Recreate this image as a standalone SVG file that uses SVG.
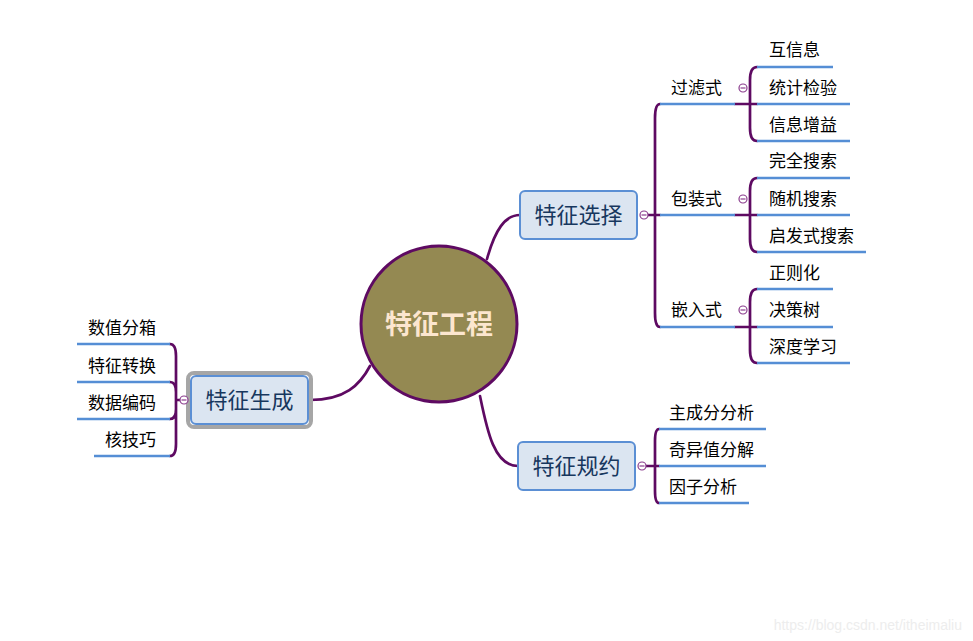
<svg xmlns="http://www.w3.org/2000/svg" width="973" height="641" viewBox="0 0 973 641">
<style>
.conn{fill:none;stroke:#5E0A62;stroke-width:2.7;stroke-linecap:round}
.ul{fill:none;stroke:#558ED5;stroke-width:2.5}
.box{fill:#DBE5F1;stroke:#5B8FD4;stroke-width:2}
.bt{font-family:"Noto Sans CJK SC","Liberation Sans",sans-serif;font-size:22px;fill:#17375E}
.t{font-family:"Noto Sans CJK SC","Liberation Sans",sans-serif;font-size:17px;fill:#000}
.col{fill:#fff;stroke:#8B3D8E;stroke-width:1.2}
.mn{stroke:#8B3D8E;stroke-width:1.2}
</style>
<rect width="973" height="641" fill="#fff"/>
<g id="connectors">
<path class="conn" d="M487,259 C495,230 505,215 520,215"/>
<path class="conn" d="M310,400 C345,400 360,385 370,366"/>
<path class="conn" d="M480,396 C487,430 494,466 518,466"/>
<path class="conn" d="M660,104 Q655,104 655,118 L655,313 Q655,327 660,327"/>
<path class="conn" d="M648,215 L660,215"/>
<path class="conn" d="M735,104 L757,104 M757,67 Q750,67 750,80 L750,128 Q750,141 757,141"/>
<path class="conn" d="M735,215 L757,215 M757,178 Q750,178 750,191 L750,239 Q750,252 757,252"/>
<path class="conn" d="M735,327 L757,327 M757,289 Q750,289 750,302 L750,350 Q750,363 757,363"/>
<path class="conn" d="M659,429 Q655,429 655,441 L655,491 Q655,503 659,503 M646,466 L659,466"/>
<path class="conn" d="M170,344 Q176,344 176,356 L176,444 Q176,456 170,456 M170,382 Q176,382 176,392 M170,419 Q176,419 176,409 M176,400 L180,400"/>
</g>
<g id="center">
<circle cx="439" cy="324" r="78" fill="#948952" stroke="#5E0A62" stroke-width="3"/>
<text x="439" y="334" text-anchor="middle" font-family="Noto Sans CJK SC,Liberation Sans,sans-serif" font-size="27" font-weight="bold" fill="#FCE6CF">特征工程</text>
</g>
<g id="n-select">
<rect class="box" x="520" y="191" width="117" height="48" rx="5"/>
<text class="bt" x="578.5" y="223" text-anchor="middle">特征选择</text>
<circle class="col" cx="644" cy="215" r="4"/><path class="mn" d="M641.5,215 L646.5,215"/>
</g>
<g id="n-filter">
<path class="ul" d="M660,104 L735,104"/>
<text class="t" x="671" y="94">过滤式</text>
<circle class="col" cx="743" cy="88" r="4"/><path class="mn" d="M740.5,88 L745.5,88"/>
</g>
<g id="n-wrap">
<path class="ul" d="M660,215 L735,215"/>
<text class="t" x="671" y="205">包装式</text>
<circle class="col" cx="743" cy="199" r="4"/><path class="mn" d="M740.5,199 L745.5,199"/>
</g>
<g id="n-embed">
<path class="ul" d="M660,327 L735,327"/>
<text class="t" x="671" y="316">嵌入式</text>
<circle class="col" cx="743" cy="310" r="4"/><path class="mn" d="M740.5,310 L745.5,310"/>
</g>
<g id="leaves-right">
<path class="ul" d="M757,67 L833,67 M757,104 L850,104 M757,141 L850,141"/>
<text class="t" x="769" y="56">互信息</text>
<text class="t" x="769" y="94">统计检验</text>
<text class="t" x="769" y="131">信息增益</text>
<path class="ul" d="M757,178 L850,178 M757,215 L850,215 M757,252 L866,252"/>
<text class="t" x="769" y="167">完全搜索</text>
<text class="t" x="769" y="205">随机搜索</text>
<text class="t" x="769" y="242">启发式搜索</text>
<path class="ul" d="M757,289 L833,289 M757,327 L833,327 M757,363 L850,363"/>
<text class="t" x="769" y="279">正则化</text>
<text class="t" x="769" y="316">决策树</text>
<text class="t" x="769" y="353">深度学习</text>
</g>
<g id="n-gen">
<rect x="188" y="373" width="123" height="54" rx="6" fill="none" stroke="#A6A6A6" stroke-width="4"/>
<rect class="box" x="191" y="376" width="117" height="48" rx="5"/>
<text class="bt" x="249.5" y="408" text-anchor="middle">特征生成</text>
<circle class="col" cx="184" cy="400" r="4"/><path class="mn" d="M181.5,400 L186.5,400"/>
</g>
<g id="leaves-left">
<path class="ul" d="M77,344 L170,344 M77,382 L170,382 M77,419 L170,419 M94,456 L170,456"/>
<text class="t" x="156" y="334" text-anchor="end">数值分箱</text>
<text class="t" x="156" y="372" text-anchor="end">特征转换</text>
<text class="t" x="156" y="409" text-anchor="end">数据编码</text>
<text class="t" x="156" y="446" text-anchor="end">核技巧</text>
</g>
<g id="n-reduce">
<rect class="box" x="518" y="442" width="117" height="48" rx="5"/>
<text class="bt" x="576.5" y="474" text-anchor="middle">特征规约</text>
<circle class="col" cx="642" cy="466" r="4"/><path class="mn" d="M639.5,466 L644.5,466"/>
</g>
<g id="leaves-reduce">
<path class="ul" d="M659,429 L766,429 M659,466 L766,466 M659,503 L749,503"/>
<text class="t" x="669" y="419">主成分分析</text>
<text class="t" x="669" y="456">奇异值分解</text>
<text class="t" x="669" y="493">因子分析</text>
</g>
<text x="962" y="630" text-anchor="end" font-family="Liberation Sans,sans-serif" font-size="14" fill="#EDEDED">https://blog.csdn.net/itheimaliu</text>
</svg>
